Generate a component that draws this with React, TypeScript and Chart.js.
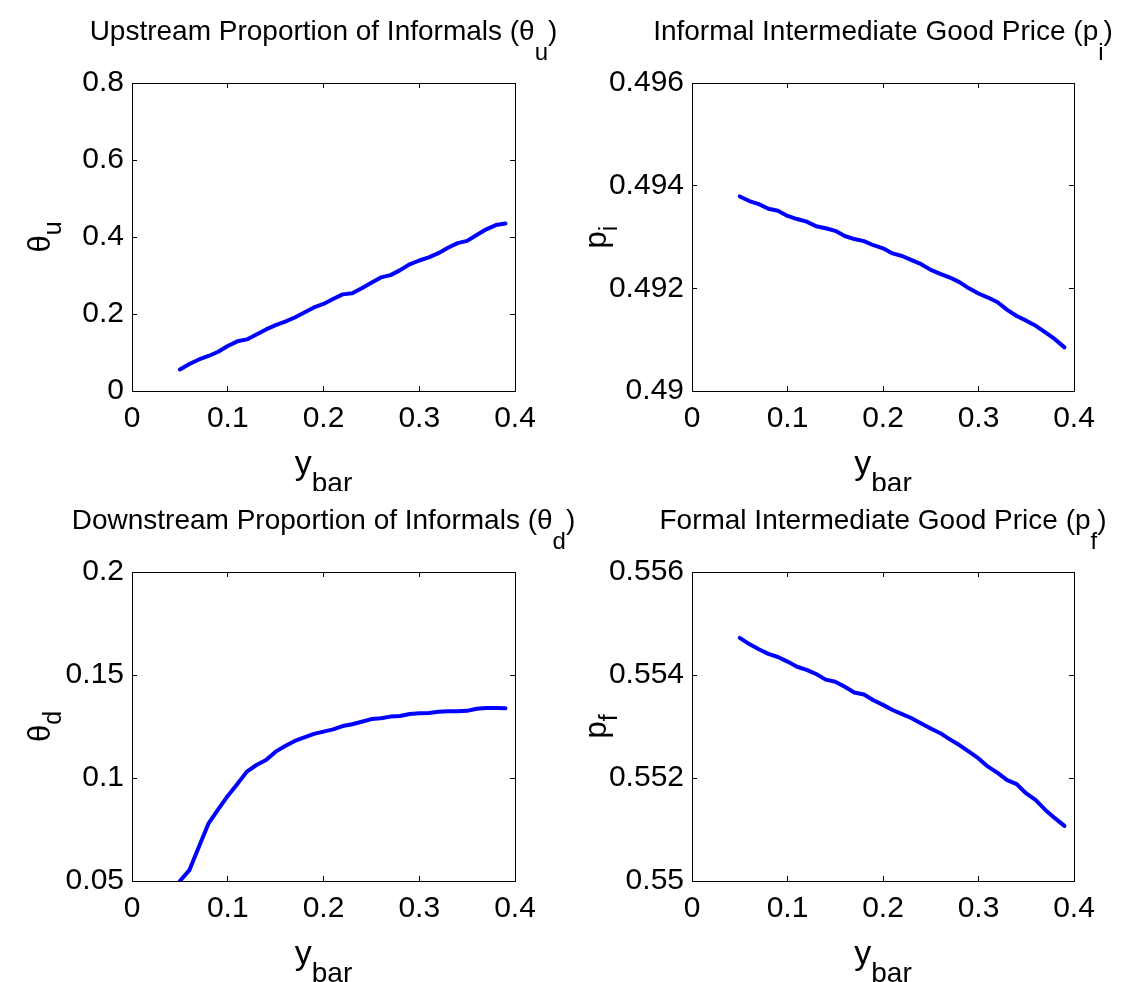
import React, { useEffect, useRef } from 'react';
import { Chart, registerables } from 'chart.js';

Chart.register(...registerables);

// ---------- data ----------
const yBar = [0.05, 0.06, 0.07, 0.08, 0.09, 0.1, 0.11, 0.12, 0.13, 0.14, 0.15, 0.16, 0.17, 0.18, 0.19, 0.2, 0.21, 0.22, 0.23, 0.24, 0.25, 0.26, 0.27, 0.28, 0.29, 0.3, 0.31, 0.32, 0.33, 0.34, 0.35, 0.36, 0.37, 0.38, 0.39];

const thetaU = [0.056, 0.07, 0.082, 0.091, 0.102, 0.117, 0.129, 0.134, 0.147, 0.16, 0.171, 0.18, 0.191, 0.204, 0.217, 0.226, 0.239, 0.251, 0.254, 0.267, 0.281, 0.295, 0.301, 0.314, 0.329, 0.339, 0.347, 0.358, 0.372, 0.384, 0.39, 0.405, 0.42, 0.431, 0.435];

const pI = [0.49379, 0.4937, 0.49364, 0.49355, 0.49351, 0.49341, 0.49335, 0.4933, 0.49321, 0.49317, 0.49312, 0.49302, 0.49296, 0.49292, 0.49284, 0.49278, 0.49268, 0.49263, 0.49255, 0.49247, 0.49236, 0.49228, 0.49221, 0.49212, 0.492, 0.4919, 0.49182, 0.49173, 0.49158, 0.49146, 0.49137, 0.49127, 0.49114, 0.49101, 0.49085];

const thetaD = [0.05, 0.0553, 0.0667, 0.078, 0.0848, 0.0913, 0.0971, 0.1031, 0.1063, 0.1087, 0.1128, 0.1155, 0.118, 0.1197, 0.1214, 0.1225, 0.1236, 0.1252, 0.1261, 0.1273, 0.1286, 0.129, 0.1298, 0.1301, 0.1311, 0.1314, 0.1316, 0.1322, 0.1324, 0.1324, 0.1326, 0.1336, 0.134, 0.134, 0.1338];

const pF = [0.55472, 0.5546, 0.5545, 0.55441, 0.55435, 0.55426, 0.55416, 0.5541, 0.55402, 0.55391, 0.55387, 0.55377, 0.55366, 0.55362, 0.55351, 0.55342, 0.55332, 0.55324, 0.55316, 0.55306, 0.55296, 0.55287, 0.55275, 0.55264, 0.55251, 0.55238, 0.55222, 0.5521, 0.55196, 0.55188, 0.5517, 0.55157, 0.55138, 0.55122, 0.55107];

const xTicks = [0, 0.1, 0.2, 0.3, 0.4];
const xTickLabels = ['0', '0.1', '0.2', '0.3', '0.4'];

const thetaUTicks = [0, 0.2, 0.4, 0.6, 0.8];
const thetaUTickLabels = ['0', '0.2', '0.4', '0.6', '0.8'];

const pITicks = [0.49, 0.492, 0.494, 0.496];
const pITickLabels = ['0.49', '0.492', '0.494', '0.496'];

const thetaDTicks = [0.05, 0.1, 0.15, 0.2];
const thetaDTickLabels = ['0.05', '0.1', '0.15', '0.2'];

const pFTicks = [0.55, 0.552, 0.554, 0.556];
const pFTickLabels = ['0.55', '0.552', '0.554', '0.556'];

// ---------- layout / style ----------
const FONT = "'Liberation Sans', Arial, Helvetica, sans-serif";
const CW = 1122;
const CH = 491;
const Y_AXIS_W = 100;
const X_AXIS_H = 70;
const TICK_LEN = -5;

type Part = { t: string; sub?: boolean };

type Panel = {
  top: number;
  area: { left: number; right: number; top: number; bottom: number };
  title: Part[];
  yLabel: Part[];
  yLabelX: number;
  values: number[];
  yTicks: number[];
  yTickLabels: string[];
};

const panels: Panel[] = [
  {
    top: 0,
    area: { left: 132, right: 515, top: 83, bottom: 391 },
    title: [{ t: 'Upstream Proportion of Informals (θ' }, { t: 'u', sub: true }, { t: ')' }],
    yLabel: [{ t: 'θ' }, { t: 'u', sub: true }],
    yLabelX: 50,
    values: thetaU, yTicks: thetaUTicks, yTickLabels: thetaUTickLabels,
  },
  {
    top: 0,
    area: { left: 692, right: 1074, top: 83, bottom: 391 },
    title: [{ t: 'Informal Intermediate Good Price (p' }, { t: 'i', sub: true }, { t: ')' }],
    yLabel: [{ t: 'p' }, { t: 'i', sub: true }],
    yLabelX: 606,
    values: pI, yTicks: pITicks, yTickLabels: pITickLabels,
  },
  {
    top: 491,
    area: { left: 132, right: 515, top: 81, bottom: 390 },
    title: [{ t: 'Downstream Proportion of Informals (θ' }, { t: 'd', sub: true }, { t: ')' }],
    yLabel: [{ t: 'θ' }, { t: 'd', sub: true }],
    yLabelX: 50,
    values: thetaD, yTicks: thetaDTicks, yTickLabels: thetaDTickLabels,
  },
  {
    top: 491,
    area: { left: 692, right: 1074, top: 81, bottom: 390 },
    title: [{ t: 'Formal Intermediate Good Price (p' }, { t: 'f', sub: true }, { t: ')' }],
    yLabel: [{ t: 'p' }, { t: 'f', sub: true }],
    yLabelX: 606,
    values: pF, yTicks: pFTicks, yTickLabels: pFTickLabels,
  },
];

function drawParts(
  ctx: CanvasRenderingContext2D,
  parts: Part[],
  cx: number,
  baseline: number,
  size: number,
  subSize: number,
  subShift: number
) {
  ctx.save();
  ctx.fillStyle = '#000';
  ctx.textBaseline = 'alphabetic';
  ctx.textAlign = 'left';
  const widths = parts.map((p) => {
    ctx.font = `${p.sub ? subSize : size}px ${FONT}`;
    return ctx.measureText(p.t).width;
  });
  const total = widths.reduce((a, b) => a + b, 0);
  let x = cx - total / 2;
  parts.forEach((p, i) => {
    ctx.font = `${p.sub ? subSize : size}px ${FONT}`;
    ctx.fillText(p.t, x, baseline + (p.sub ? subShift : 0));
    x += widths[i];
  });
  ctx.restore();
}

function PanelChart({ panel }: { panel: Panel }) {
  const ref = useRef<HTMLCanvasElement | null>(null);

  useEffect(() => {
    if (!ref.current) return;
    const { area } = panel;
    const grid = {
      drawOnChartArea: false,
      drawTicks: true,
      tickLength: TICK_LEN,
      color: '#000',
      lineWidth: 1,
    };
    const border = { display: true, color: '#000', width: 1 };
    const tickFont = { family: FONT, size: 30 };

    const setX = (s: any) => {
      s.ticks = xTicks.map((v) => ({ value: v }));
    };
    const setY = (s: any) => {
      s.ticks = panel.yTicks.map((v) => ({ value: v }));
    };
    const yMin = panel.yTicks[0];
    const yMax = panel.yTicks[panel.yTicks.length - 1];

    const labelsPlugin = {
      id: 'matlabLabels',
      afterDraw(chart: any) {
        const ctx: CanvasRenderingContext2D = chart.ctx;
        const ca = chart.chartArea;
        const cx = (ca.left + ca.right) / 2;
        const cy = (ca.top + ca.bottom) / 2;
        // title
        drawParts(ctx, panel.title, cx, ca.top - 43, 28, 24, 20);
        // x label
        drawParts(ctx, [{ t: 'y' }, { t: 'bar', sub: true }], cx, ca.bottom + 83, 34, 28, 18);
        // y label (rotated)
        ctx.save();
        ctx.translate(panel.yLabelX, cy);
        ctx.rotate(-Math.PI / 2);
        drawParts(ctx, panel.yLabel, 0, 0, 31, 25, 11);
        ctx.restore();
      },
    };

    const chart = new Chart(ref.current, {
      type: 'line',
      data: {
        datasets: [
          {
            data: yBar.map((x, i) => ({ x, y: panel.values[i] })),
            borderColor: '#0000ff',
            backgroundColor: '#0000ff',
            borderWidth: 4,
            pointRadius: 0,
            fill: false,
            tension: 0,
            borderJoinStyle: 'round',
            borderCapStyle: 'round',
            xAxisID: 'x',
            yAxisID: 'y',
          },
        ],
      },
      options: {
        responsive: false,
        animation: false,
        events: [],
        layout: {
          padding: {
            left: area.left - Y_AXIS_W,
            right: CW - area.right,
            top: area.top,
            bottom: CH - area.bottom - X_AXIS_H,
          },
        },
        plugins: {
          legend: { display: false },
          tooltip: { enabled: false },
          title: { display: false },
        },
        scales: {
          x: {
            type: 'linear',
            position: 'bottom',
            min: 0,
            max: 0.4,
            afterBuildTicks: setX,
            afterFit: (s: any) => { s.height = X_AXIS_H; },
            ticks: {
              font: tickFont,
              color: '#000',
              padding: 15,
              maxRotation: 0,
              autoSkip: false,
              callback: (v: any) => xTickLabels[xTicks.indexOf(Number(v))],
            },
            grid,
            border,
          },
          xTop: {
            type: 'linear',
            position: 'top',
            min: 0,
            max: 0.4,
            afterBuildTicks: setX,
            afterFit: (s: any) => { s.height = 0; },
            ticks: { display: false },
            grid,
            border,
          },
          y: {
            type: 'linear',
            position: 'left',
            min: yMin,
            max: yMax,
            afterBuildTicks: setY,
            afterFit: (s: any) => { s.width = Y_AXIS_W; },
            ticks: {
              font: tickFont,
              color: '#000',
              padding: 13,
              autoSkip: false,
              callback: (v: any) => panel.yTickLabels[panel.yTicks.indexOf(Number(v))],
            },
            grid,
            border,
          },
          yRight: {
            type: 'linear',
            position: 'right',
            min: yMin,
            max: yMax,
            afterBuildTicks: setY,
            afterFit: (s: any) => { s.width = 0; },
            ticks: { display: false },
            grid,
            border,
          },
        },
      } as any,
      plugins: [labelsPlugin],
    });
    return () => chart.destroy();
  }, [panel]);

  return (
    <canvas
      ref={ref}
      width={CW}
      height={CH}
      style={{ position: 'absolute', left: 0, top: panel.top, width: CW, height: CH }}
    />
  );
}

export default function App() {
  return (
    <div style={{ position: 'absolute', left: 0, top: 0, width: 1122, height: 982, background: '#fff' }}>
      {panels.map((p, i) => (
        <PanelChart key={i} panel={p} />
      ))}
    </div>
  );
}
